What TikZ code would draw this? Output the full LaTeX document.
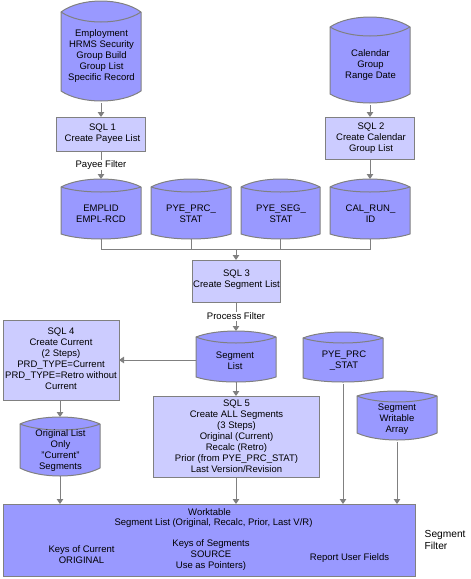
\documentclass[tikz,border=0pt]{standalone}
\usepackage{fontspec}
\setmainfont{Liberation Sans}
\usetikzlibrary{arrows.meta}
\definecolor{cylfill}{HTML}{9999FF}
\definecolor{boxfill}{HTML}{CCCCFF}
\definecolor{edge}{HTML}{808080}
\tikzset{
  lbl/.style={align=center,inner sep=0pt,font=\fontsize{9.5}{11}\selectfont,text=black},
  sqlbox/.style={draw=edge,fill=boxfill,line width=1pt,inner sep=0pt,outer sep=0pt},
  workbox/.style={draw=edge,fill=cylfill,line width=1pt,inner sep=0pt,outer sep=0pt},
  cylshape/.style={draw=edge,fill=cylfill,line width=1pt,line join=round},
  anchorbox/.style={inner sep=0pt,outer sep=0pt},
  link/.style={draw=edge,line width=1pt},
  flow/.style={link,-{Triangle[width=6.5pt,length=5pt]}},
  cutlbl/.style={lbl,fill=white,inner xsep=2pt,inner ysep=1pt}
}
% name, x1, x2, top, rim corner, rim front, bottom corner, bottom
\newcommand\mycyl[8]{%
  \pgfmathsetmacro\cw{#3-#2}
  \path[cylshape] (#2,#5)
    .. controls ({#2+.25*\cw},{#5-(#5-#4)*4/3}) and ({#3-.25*\cw},{#5-(#5-#4)*4/3}) .. (#3,#5)
    -- (#3,#7)
    .. controls ({#3-.25*\cw},{#7+(#8-#7)*4/3}) and ({#2+.25*\cw},{#7+(#8-#7)*4/3}) .. (#2,#7)
    -- cycle;
  \path[draw=edge,line width=1pt] (#2,#5)
    .. controls ({#2+.25*\cw},{#5+(#6-#5)*4/3}) and ({#3-.25*\cw},{#5+(#6-#5)*4/3}) .. (#3,#5);
  \node[anchorbox,minimum width=\cw pt,minimum height={(#8-#4)*1pt}] (#1) at ({(#2+#3)/2},{(#4+#8)/2}) {};
}
\begin{document}
\begin{tikzpicture}[x=1pt,y=-1pt]
\useasboundingbox (0,0) rectangle (471,579);
% cylinders
\mycyl{emp}{61}{141}{1}{12}{22}{91}{101}
\mycyl{cal}{330}{410}{17}{27}{36}{94}{103}
\mycyl{emplid}{61}{141}{179}{187}{192}{234}{239}
\mycyl{prc}{151}{231}{179}{187}{192}{234}{239}
\mycyl{seg}{241}{320}{179}{187}{192}{234}{239}
\mycyl{run}{330}{410}{179}{187}{192}{234}{239}
\mycyl{list}{196}{276}{331}{337}{343}{377}{382}
\mycyl{stat}{303}{383}{332}{338}{343}{378}{382}
\mycyl{arr}{357}{437}{391}{396}{402}{433}{440}
\mycyl{orig}{20}{100}{417}{424}{430}{468}{476}
% boxes
\node[sqlbox,minimum width=89pt,minimum height=34pt] (sqla) at (101,134) {};
\node[sqlbox,minimum width=89pt,minimum height=42pt] (sqlb) at (370,138) {};
\node[sqlbox,minimum width=88pt,minimum height=42pt] (sqlc) at (236,281) {};
\node[sqlbox,minimum width=116pt,minimum height=79.5pt] (sqld) at (61,360.25) {};
\node[sqlbox,minimum width=166pt,minimum height=81pt] (sqle) at (236,436.5) {};
\node[workbox,minimum width=412pt,minimum height=72pt] (work) at (209,540) {};
% connectors
\draw[flow] ([yshift=-2pt]emp.south) -- (sqla.north);
\draw[flow] ([yshift=-2pt]cal.south) -- (sqlb.north);
\draw[flow] (sqla.south) -- node[cutlbl] (payee) {Payee Filter} (emplid.north);
\draw[flow] (sqlb.south) -- (run.north);
\coordinate (bus) at (236,249.5);
\draw[link] (emplid.south) |- (bus);
\draw[link] (prc.south) |- (bus);
\draw[link] (seg.south) |- (bus);
\draw[link] (run.south) |- (bus);
\draw[flow] (bus) -- (sqlc.north);
\draw[flow] (sqlc.south) -- node[cutlbl] (process) {Process Filter} (list.north);
\draw[flow] (list.west |- 0,360) -- (sqld.east |- 0,360);
\draw[flow] (list.south) -- (sqle.north);
\draw[flow] (sqld.south -| orig.north) -- (orig.north);
\draw[flow] (orig.south) -- (work.north -| orig.south);
\draw[flow] (sqle.south) -- (work.north -| sqle.south);
\draw[flow] ([yshift=-2pt]stat.south) -- (work.north -| stat.south);
\draw[flow] ([yshift=-2pt]arr.south) -- (work.north -| arr.south);
% texts
\node[lbl] (temp) at (101.5,56.5) {Employment\\HRMS Security\\Group Build\\Group List\\Specific Record};
\node[lbl] (tcal) at (370.5,65) {Calendar\\Group\\Range Date};
\node[lbl] (tsqla) at (102.5,133.5) {SQL 1\\Create Payee List};
\node[lbl] (tsqlb) at (371,138) {SQL 2\\Create Calendar\\Group List};
\node[lbl] (templid) at (101,213.5) {EMPLID\\EMPL-RCD};
\node[lbl] (tprc) at (191,213.5) {PYE\_PRC\_\\STAT};
\node[lbl] (tseg) at (281,213.5) {PYE\_SEG\_\\STAT};
\node[lbl] (trun) at (370.5,213.5) {CAL\_RUN\_\\ID};
\node[lbl] (tsqlc) at (236.5,280) {SQL 3\\Create Segment List};
\node[lbl] (tlist) at (235,360.5) {Segment\\List};
\node[lbl] (tstat) at (344,360.5) {PYE\_PRC\\\_STAT};
\node[lbl] (tsqld) at (61,359) {SQL 4\\Create Current\\(2 Steps)\\PRD\_TYPE=Current\\PRD\_TYPE=Retro without\\Current};
\node[lbl] (tsqle) at (236.5,436) {SQL 5\\Create ALL Segments\\(3 Steps)\\Original (Current)\\Recalc (Retro)\\Prior (from PYE\_PRC\_STAT)\\Last Version/Revision};
\node[lbl] (torig) at (60.5,451) {Original List\\Only\\"Current"\\Segments};
\node[lbl] (tarr) at (397,419) {Segment\\Writable\\Array};
\node[lbl] (twork) at (209.5,512) {Worktable};
\node[lbl] (tworkb) at (213.5,523) {Segment List (Original, Recalc, Prior, Last V/R)};
\node[lbl] (tkeya) at (81.5,555) {Keys of Current\\ORIGINAL};
\node[lbl] (tkeyb) at (211,555.5) {Keys of Segments\\SOURCE\\Use as Pointers)};
\node[lbl] (trep) at (349.5,558) {Report User Fields};
\node[lbl,align=left,anchor=west,font=\fontsize{10.2}{12}\selectfont] (tfilter) at (424.5,540) {Segment\\Filter};
\end{tikzpicture}
\end{document}
